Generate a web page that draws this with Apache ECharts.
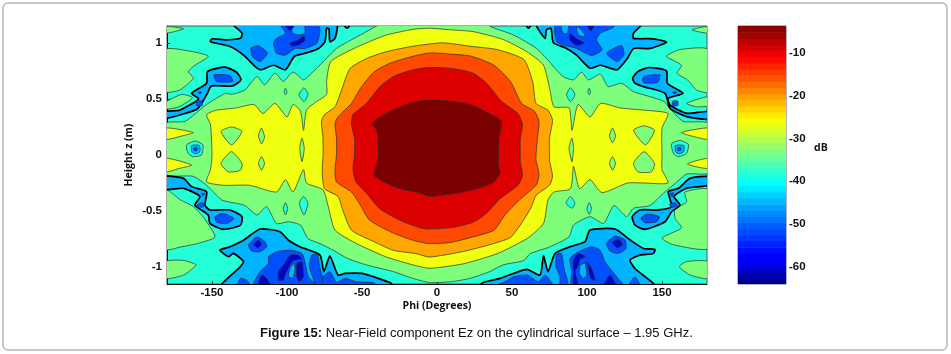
<!DOCTYPE html>
<html>
<head>
<meta charset="utf-8">
<style>html,body{margin:0;padding:0;background:#fff}#c{width:951px;height:354px}</style>
<script src="https://cdn.jsdelivr.net/npm/echarts@6/dist/echarts.min.js"></script>
</head>
<body>
<div id="c"></div>
<script>
const phiTicks = [-150,-100,-50,0,50,100,150];
const zTicks = [-1,-0.5,0,0.5,1];
const dbTicks = [-60,-50,-40,-30,-20,-10];
const caption = 'Near-Field component Ez on the cylindrical surface – 1.95 GHz.';

// Filled-contour outlines, each as [phi (degrees), z (m)]
const core = [[-5,.49],[9,.48],[22,.45],[35,.37],[43,.30],[41.5,.16],[41,0],[41,-.08],[42,-.16],[38,-.24],[27,-.30],[13,-.34],[-5,-.37],[-11,-.34],[-25,-.30],[-34,-.25],[-42,-.18],[-40,-.07],[-39,0],[-40,.21],[-43,.28],[-38,.34],[-29,.40],[-16,.47]];
const red = [[-5,.78],[11,.77],[24,.73],[33,.64],[43,.48],[54,.37],[57,.27],[55.5,.15],[55.5,0],[55.5,-.06],[57,-.18],[54,-.27],[42,-.39],[33,-.52],[24,-.60],[11,-.645],[-5,-.66],[-11,-.65],[-25,-.58],[-38,-.48],[-47,-.34],[-54,-.24],[-56,-.13],[-55,0],[-55,.15],[-57,.27],[-56,.36],[-47,.46],[-38,.61],[-29,.70],[-16,.76]];
const orangeRed = [[-5,.91],[9,.90],[23,.88],[38,.80],[49,.655],[56.4,.46],[65,.39],[68,.30],[67,.15],[66,0],[66,-.045],[68,-.18],[66,-.27],[55,-.40],[45.3,-.535],[38,-.67],[24,-.73],[9,-.78],[-5,-.79],[-16,-.76],[-31,-.685],[-45,-.58],[-51,-.45],[-57,-.33],[-67,-.24],[-68,-.13],[-67,0],[-67,.15],[-68,.28],[-66,.34],[-57,.46],[-51,.595],[-42,.74],[-31,.82],[-16,.88]];
const orange = [[4,1.0],[22,.97],[40,.94],[58,.85],[64,.64],[66,.46],[74,.40],[77,.31],[75,.15],[75,0],[75,-.045],[77,-.19],[75,-.27],[66,-.36],[63,-.46],[57,-.595],[49,-.735],[35,-.80],[17.5,-.86],[-5,-.91],[-13.6,-.88],[-29,-.85],[-42.5,-.77],[-57,-.67],[-62.5,-.505],[-66,-.37],[-75,-.30],[-76.5,-.15],[-76,0],[-76,.15],[-77,.30],[-75,.36],[-68,.43],[-63.6,.58],[-58,.77],[-47,.86],[-34,.92],[-16,.97]];
const yellow = [[-5,1.13],[9,1.116],[24,1.10],[44,1.03],[60,.92],[71,.80],[75.3,.58],[78,.43],[88,.42],[90,.22],[94,.45],[102,.34],[109,.46],[122,.42],[138,.40],[154,.37],[150,.24],[150,0],[150,-.13],[154,-.25],[138,-.25],[127,-.25],[110,-.335],[102,-.22],[95,-.30],[91,-.10],[89,-.30],[78,-.33],[74,-.40],[71,-.61],[60,-.745],[40,-.88],[17.5,-.97],[-5,-1.01],[-16,-.98],[-33.6,-.91],[-53.6,-.79],[-68,-.67],[-72.5,-.46],[-76,-.31],[-87,-.25],[-89,-.13],[-96,-.33],[-101,-.22],[-107,-.33],[-125,-.27],[-142.5,-.27],[-153.6,-.24],[-151,-.13],[-150,0],[-151,.27],[-153.6,.36],[-147,.40],[-133.6,.42],[-122,.45],[-116,.37],[-108,.46],[-100,.34],[-96,.45],[-91,.39],[-89,.22],[-87,.40],[-81,.47],[-73.6,.54],[-73.6,.655],[-71,.83],[-60,.92],[-47,1.0],[-33.6,1.07],[-16,1.12]];
const yellowWedgeUL = [[-181,.24],[-162.5,.20],[-170,.17],[-181,.14]];
const yellowWedgeLL = [[-181,-.03],[-163.6,-.09],[-172,-.12],[-181,-.15]];
const yellowWedgeUR = [[181,.24],[163,.20],[171,.165],[181,.14]];
const yellowWedgeLR = [[181,-.03],[167,-.08],[181,-.12]];

const greenCentral = [[-36,1.17],[35,1.17],[35.3,1.146],[51,1.07],[66.4,.95],[73,.86],[84,.70],[91,.67],[96.4,.74],[101,.67],[109,.72],[114,.61],[123,.64],[131,.565],[142,.52],[151,.48],[155,.42],[164,.30],[181,.28],[181,-.157],[166.4,-.17],[160,-.24],[151,-.34],[142,-.45],[131,-.475],[126.4,-.55],[118,-.45],[111,-.61],[102,-.55],[91,-.625],[88,-.73],[75,-.82],[62,-.88],[58,-.94],[44,-.98],[35,-1.04],[22,-1.10],[9,-1.13],[-5,-1.137],[-16,-1.10],[-29,-1.04],[-47,-.98],[-60,-.92],[-69,-.85],[-78,-.79],[-86,-.745],[-91,-.625],[-99,-.595],[-107,-.61],[-113.6,-.46],[-120,-.535],[-128,-.45],[-138,-.42],[-143.6,-.40],[-153.6,-.27],[-162.5,-.19],[-181,-.17],[-181,.28],[-168,.30],[-153.6,.45],[-141,.55],[-137,.54],[-128,.58],[-120,.70],[-115,.625],[-108,.73],[-102.5,.655],[-96,.74],[-89,.67],[-83.6,.73],[-76,.83],[-67,.95],[-51,1.07]];
const greenLobes = [
 [[-181,1.146],[-169,1.125],[-181,1.086]],
 [[-181,.94],[-162.5,.92],[-152.5,.88],[-162.5,.79],[-165.8,.74],[-162.5,.685],[-171.4,.58],[-181,.565]],
 [[-181,.47],[-170,.54],[-163,.51],[-172,.43],[-181,.41]],
 [[-181,-.31],[-171,-.40],[-162.5,-.46],[-156,-.55],[-148,-.73],[-160,-.79],[-171,-.82],[-181,-.84]],
 [[-181,-.95],[-169,-.94],[-160.7,-.98],[-169,-1.07],[-181,-1.10]],
 [[181,1.146],[170,1.116],[181,1.086]],
 [[181,.94],[162,.94],[153,.88],[163,.80],[160,.73],[167,.67],[173,.58],[181,.56]],
 [[181,.52],[166.4,.46],[173,.43],[181,.44]],
 [[181,-.31],[165.3,-.33],[166.4,-.42],[158.7,-.48],[158.7,-.565],[163,-.65],[150,-.74],[157.6,-.80],[181,-.83]],
 [[181,-.95],[166.4,-.95],[161.6,-.995],[168.7,-1.07],[181,-1.10]]
];
const greenHoles = [
 [[-144,.21],[-137,.25],[-130,.21],[-137,.09]],
 [[-137,.03],[-130,-.075],[-131,-.135],[-139,-.15],[-144,-.075]],
 [[-117,.24],[-115,.16],[-117,.10],[-119,.17]],
 [[-117,-.015],[-115,-.075],[-117,-.135],[-119,-.075]],
 [[117,.24],[119,.17],[117,.11],[115,.17]],
 [[117,-.015],[119,-.075],[117,-.135],[115,-.075]],
 [[131,.22],[138,.26],[145,.22],[139,.09]],
 [[138,.03],[145,-.075],[143,-.15],[134,-.15],[131,-.075]],
 [[-90,.15],[-88.5,.06],[-90,-.06],[-91.5,.06]],
 [[90,.15],[91,.06],[90,-.06],[88,.06]]
];
const cyanIslands = [
 [[-88.7,.60],[-86,.54],[-88.7,.476],[-92,.536]],
 [[-101,.595],[-100,.56],[-101,.536],[-102,.565]],
 [[89,.60],[92,.536],[89,.476],[86.4,.536]],
 [[101.5,.595],[102.4,.56],[101.5,.536],[100.5,.56]],
 [[-89,-.37],[-86,-.43],[-88.7,-.535],[-91.8,-.43]],
 [[-101,-.425],[-99.6,-.475],[-101,-.535],[-102.5,-.475]],
 [[89,-.37],[92,-.43],[90,-.475],[86,-.43]],
 [[101.5,-.425],[103,-.475],[101.5,-.53],[100,-.475]],
 [[-167,.09],[-161,.125],[-156,.09],[-157,0],[-162.5,-.015],[-166,.015]],
 [[156.4,.10],[162,.13],[167.6,.095],[166.4,.015],[161,-.015],[157.6,.015]]
];
const skyDots = [
 [[-163.5,.085],[-158.5,.085],[-158,.03],[-161,.01],[-163.5,.03]],
 [[159,.085],[164.5,.085],[164.5,.03],[161.5,.01],[159,.03]]
];
const blueDots = [
 [[-162,.065],[-160,.065],[-160,.04],[-162,.04]],
 [[160.5,.065],[162.5,.065],[162.5,.04],[160.5,.04]]
];

// Deep-null regions, bounded by the heavy contour
const skyRegions = [
 [[-136,1.17],[-130,1.086],[-131,1.04],[-140,1.027],[-150,1.036],[-151,1.01],[-138,.967],[-129,.89],[-120,.774],[-117,.76],[-109,.80],[-101,.76],[-95,.88],[-87,.91],[-79,.95],[-74.7,1.01],[-73.6,1.13],[-72,1.125],[-71.4,1.01],[-68,1.04],[-67,1.17]],
 [[-62.5,1.17],[-60,1.13],[-57.6,1.17]],
 [[66.4,1.17],[72,1.04],[73,1.116],[76,1.13],[77.6,1.0],[86.4,.95],[93,.89],[102,.774],[109,.80],[120,.76],[127,.863],[131,.95],[142,.95],[153,1.006],[144,1.036],[131,1.04],[131,1.086],[136.4,1.17]],
 [[59,1.17],[61,1.13],[63,1.17]],
 [[-153,.744],[-141.4,.783],[-133.6,.738],[-130.7,.67],[-136.3,.616],[-150.3,.616],[-153.6,.536],[-159.8,.41],[-171.4,.357],[-181,.327],[-181,.387],[-171.4,.40],[-159,.5],[-163.6,.55],[-153.6,.64]],
 [[130.4,.685],[134,.744],[141,.78],[153,.75],[153.6,.64],[164,.55],[154.2,.506],[155.3,.446],[166.4,.372],[181,.387],[181,.32],[166.4,.342],[155.3,.417],[152,.55],[137.6,.61],[132,.64]],
 [[-181,-.193],[-169,-.208],[-163.6,-.282],[-153.6,-.327],[-154.7,-.446],[-151.4,-.49],[-138,-.49],[-130,-.55],[-131,-.625],[-142.5,-.663],[-151.4,-.61],[-152.5,-.535],[-161.4,-.446],[-158,-.37],[-169,-.297],[-181,-.306]],
 [[181,-.193],[168.7,-.208],[161,-.297],[154.2,-.327],[156.4,-.46],[147.5,-.49],[135.3,-.49],[130.2,-.55],[132,-.625],[138.7,-.663],[152,-.595],[156.4,-.506],[162,-.446],[158,-.37],[166.4,-.297],[181,-.268]],
 [[-143.6,-1.17],[-131.4,-1.0],[-129,-.95],[-135.8,-.877],[-139,-.907],[-144.7,-.848],[-138,-.818],[-129,-.76],[-118,-.66],[-104.7,-.684],[-99,-.76],[-91.4,-.818],[-78,-.892],[-75.4,-1.04],[-71.4,-.90],[-66,-1.07],[-61.4,-1.056],[-50,-1.056],[-31.4,-1.137],[-29,-1.17]],
 [[28,-1.17],[30.9,-1.137],[42,-1.10],[51,-1.056],[60,-1.02],[68.7,-1.07],[71,-.90],[74,-1.04],[78.7,-.878],[88.7,-.818],[98.7,-.773],[102,-.67],[118.7,-.66],[129,-.76],[137.6,-.833],[145.3,-.842],[144.2,-.878],[135.3,-.892],[128.7,-.937],[132,-1.012],[145,-1.17]]
];
const blueRegions = [
 [[-104.6,1.17],[-101,1.086],[-107,1.04],[-109,.997],[-107,.907],[-101,.89],[-94.6,.95],[-88,.95],[-80,.997],[-78,1.116],[-80,1.17]],
 [[-124,.952],[-119,.973],[-113,.907],[-118,.833],[-123,.878]],
 [[79.3,1.17],[80,1.006],[93,.95],[103,.887],[110,.937],[106.4,1.027],[109,1.086],[117.6,1.137],[118.7,1.17]],
 [[113,.908],[123,.976],[124.7,.893],[120,.833]],
 [[-148.5,.714],[-138,.708],[-136.3,.655],[-147,.655]],
 [[-159,.56],[-157,.56],[-158,.545]],
 [[-160.5,.48],[-157,.48],[-156.5,.44],[-160,.44]],
 [[137.6,.70],[148.7,.714],[147,.646],[137.6,.646]],
 [[157,.56],[160,.56],[158.5,.545]],
 [[157,.48],[160.5,.48],[160.5,.44],[157,.44]],
 [[-148,-.55],[-142.5,-.52],[-135.4,-.565],[-140,-.61],[-147,-.60]],
 [[-157,-.342],[-154.7,-.342],[-156,-.365]],
 [[-160,-.446],[-157,-.425],[-154.7,-.446],[-157,-.467]],
 [[136,-.565],[140,-.526],[148.2,-.55],[146.4,-.595],[138.7,-.604]],
 [[154.2,-.348],[157.6,-.336],[157,-.372]],
 [[155,-.437],[159,-.425],[160.2,-.455],[156.4,-.467]],
 [[-112.4,-.907],[-107,-.863],[-98,-.848],[-90,-.878],[-87.5,-.982],[-85.8,-1.086],[-80,-1.17],[-122.4,-1.17],[-118,-1.041],[-112.4,-.967]],
 [[-83.5,-.893],[-79.7,-.893],[-78,-1.01],[-75,-1.17],[-80,-1.17],[-85,-1.0]],
 [[-133,-1.17],[-131,-1.10],[-127,-1.116],[-124,-1.17]],
 [[-76,-1.086],[-71.4,-1.04],[-67,-1.13],[-61,-1.10],[-53.6,-1.13],[-42.5,-1.137],[-40,-1.17],[-76,-1.17]],
 [[-125.7,-.803],[-120,-.729],[-114.6,-.774],[-113.5,-.818],[-118,-.863],[-123.5,-.857]],
 [[88.7,-.922],[94.3,-.863],[103,-.818],[108.7,-.848],[112,-.952],[119.8,-1.086],[124.3,-1.17],[89.8,-1.17],[89.8,-1.04]],
 [[79.8,-.878],[83,-.878],[84.7,-1.01],[87.6,-1.17],[82,-1.17],[82,-1.086],[79.4,-.997]],
 [[45.3,-1.13],[51,-1.086],[60,-1.07],[67.5,-1.13],[72,-1.07],[76.4,-1.137],[78,-1.17],[38,-1.17]],
 [[127.6,-1.17],[132,-1.086],[135.4,-1.17]],
 [[113,-.788],[118.7,-.723],[125.4,-.759],[126,-.833],[121,-.878],[115.4,-.857]]
];
const skyHoles = [
 [[-98,1.17],[-96,1.086],[-92.4,1.07],[-88,1.086],[-89,1.17]],
 [[82.4,1.17],[84,1.086],[87,1.086],[87.5,1.17]],
 [[93,1.146],[96,1.12],[99,1.056],[94.2,1.07]],
 [[-98,-1.012],[-95.7,-.967],[-94.6,-1.012],[-96,-1.095],[-99,-1.086]],
 [[95.4,-.982],[98.7,-.967],[99.8,-1.071],[97.6,-1.10],[95,-1.056]]
];
const darkRegions = [
 [[-98,.997],[-92.4,1.026],[-89,1.06],[-88,1.02],[-92.4,.98],[-97,.973]],
 [[-101,1.17],[-94.6,1.17],[-97,1.116],[-99,1.116]],
 [[88.7,1.086],[93,1.036],[98,1.0],[93,.976],[88.7,1.027]],
 [[100,1.17],[105.3,1.17],[102.4,1.107]],
 [[-122,-.797],[-119,-.759],[-117,-.797],[-119.7,-.827]],
 [[-102.4,-.982],[-98,-.893],[-92.4,-.893],[-90,-.928],[-94.6,-.937],[-96.8,-.952],[-101.3,-1.071],[-102.4,-1.116],[-105.7,-1.116],[-105.7,-1.04]],
 [[-93.5,-.967],[-90,-.952],[-89,-1.086],[-91.7,-1.13],[-93.5,-1.086]],
 [[-119,-1.17],[-117,-1.071],[-113.5,-1.10],[-110.9,-1.17]],
 [[117,-.78],[121,-.75],[123.8,-.797],[120.3,-.827]],
 [[91,-.937],[94.3,-.878],[98.7,-.907],[95.4,-.928],[94.3,-.982],[92,-1.04],[94.3,-1.17],[91,-1.17],[91,-1.04]],
 [[99.8,-.952],[103,-1.012],[105.4,-1.116],[102.5,-1.10],[101,-1.012]],
 [[111,-1.17],[115.4,-1.071],[119.4,-1.17]]
];

const bandColors = {maroon:'#7b0000',red:'#dc0000',orangeRed:'#ff4800',orange:'#ffa600',yellow:'#f0ff10',green:'#7eff7c',cyan:'#24ffd8',sky:'#00b4ff',blue:'#0050ff',dark:'#0008c8'};
const thin = 0.7, thick = 1.7;
const layers = [];
function add(list, color, width, stroke){ list.forEach(p => layers.push({p, color: bandColors[color], width, stroke: stroke || '#2c2c2c'})); }
add(greenLobes,'green',thin);
add([greenCentral],'green',thin);
add(cyanIslands,'cyan',thin);
add([yellow,yellowWedgeUL,yellowWedgeLL,yellowWedgeUR,yellowWedgeLR],'yellow',thin);
add(greenHoles,'green',thin);
add([orange],'orange',thin);
add([orangeRed],'orangeRed',thin);
add([red],'red',thin);
add([core],'maroon',thin);
add(skyDots,'sky',thin);
add(blueDots,'blue',thin);
add(skyRegions,'sky',thick,'#000');
add(blueRegions,'blue',thin);
add(skyHoles,'sky',thin);
add(darkRegions,'dark',thin);

// Colour bar: stepped colormap
const barMin = -64, barMax = -3.7, barSteps = 42;
const barStops = ['#00007f','#0000ff','#0000ff','#0080ff','#00ffff','#80ff80','#ffff00','#ff8000','#ff0000','#7f0000'];
const barPos = [-64,-58.5,-57,-48,-40.5,-33,-25.5,-18.5,-11,-3.7];
function jet(v){
  for(let i=1;i<barPos.length;i++){
    if(v<=barPos[i]){const t=(v-barPos[i-1])/(barPos[i]-barPos[i-1]);return echarts.color.lerp(t,[barStops[i-1],barStops[i]]);}
  }
  return barStops[barStops.length-1];
}
const barData = [];
for(let i=0;i<barSteps;i++){
  const a = barMin+(barMax-barMin)*i/barSteps, b = barMin+(barMax-barMin)*(i+1)/barSteps;
  barData.push([a,b,jet((a+b)/2)]);
}

const labelStyle = {color:'#111',fontFamily:'Liberation Sans',fontSize:11.5,fontWeight:'bold'};
const nameStyle = {color:'#111',fontFamily:'Open Sans',fontSize:10.5,fontWeight:'bold'};

const chart = echarts.init(document.getElementById('c'),null,{renderer:'canvas'});
chart.setOption({
  animation:false,
  backgroundColor:'#fff',
  title:{
    text:'{b|Figure 15:} '+caption,
    left:255, top:322,
    textStyle:{fontFamily:'Liberation Sans',fontSize:13,fontWeight:'normal',color:'#111',
      rich:{b:{fontFamily:'Liberation Sans',fontSize:13,fontWeight:'bold',color:'#111'}}}
  },
  graphic:[
    {type:'rect',z:-10,silent:true,shape:{x:3,y:3,width:944,height:347,r:5},style:{fill:'#fff',stroke:'#b8b8b8',lineWidth:1.5}},
    {type:'text',left:814,top:143,silent:true,style:{text:'dB',fill:'#111',font:'bold 10.5px "Open Sans"'}}
  ],
  grid:[
    {left:167,top:26,width:540,height:258,show:true,backgroundColor:bandColors.cyan,borderColor:'#555',borderWidth:1},
    {left:738,top:26,width:48,height:258,show:true,backgroundColor:'#fff',borderColor:'#667',borderWidth:1}
  ],
  xAxis:[
    {gridIndex:0,type:'value',min:-180,max:180,
     name:'Phi (Degrees)',nameLocation:'middle',nameGap:17,nameMoveOverlap:false,nameTextStyle:nameStyle,
     axisLine:{onZero:false,lineStyle:{color:'#111'}},
     axisTick:{inside:true,length:3,customValues:phiTicks,lineStyle:{color:'#333'}},
     axisLabel:Object.assign({customValues:phiTicks,margin:3},labelStyle),splitLine:{show:false}},
    {gridIndex:1,type:'value',min:0,max:1,show:false}
  ],
  yAxis:[
    {gridIndex:0,type:'value',min:-1.15,max:1.15,
     name:'Height z (m)',nameLocation:'middle',nameGap:32,nameMoveOverlap:false,nameTextStyle:nameStyle,
     axisLine:{onZero:false,lineStyle:{color:'#111'}},
     axisTick:{inside:true,length:3,customValues:zTicks,lineStyle:{color:'#333'}},
     axisLabel:Object.assign({customValues:zTicks,margin:5,formatter:v=>String(v)},labelStyle),splitLine:{show:false}},
    {gridIndex:1,type:'value',position:'right',min:barMin,max:barMax,z:5,
     axisLine:{show:false},
     axisTick:{show:false},
     axisLabel:Object.assign({customValues:dbTicks,margin:3},labelStyle),splitLine:{show:false}}
  ],
  series:[
    {type:'custom',xAxisIndex:0,yAxisIndex:0,clip:true,silent:true,
     data:layers.map((l,i)=>[i]),encode:{x:[],y:[]},
     renderItem(params,api){
       const l = layers[api.value(0)];
       return {type:'polygon',shape:{points:l.p.map(q=>api.coord(q)),smooth:0.2},
         style:{fill:l.color,stroke:l.stroke,lineWidth:l.width}};
     }},
    {type:'custom',xAxisIndex:1,yAxisIndex:1,clip:true,silent:true,
     data:barData.map((b,i)=>[i]),encode:{x:[],y:[]},
     renderItem(params,api){
       const b = barData[api.value(0)];
       const p0 = api.coord([0,b[0]]), p1 = api.coord([1,b[1]]);
       return {type:'rect',shape:{x:p0[0],y:p1[1],width:p1[0]-p0[0],height:p0[1]-p1[1]+0.6},style:{fill:b[2]}};
     }}
  ]
});
</script>
</body>
</html>
